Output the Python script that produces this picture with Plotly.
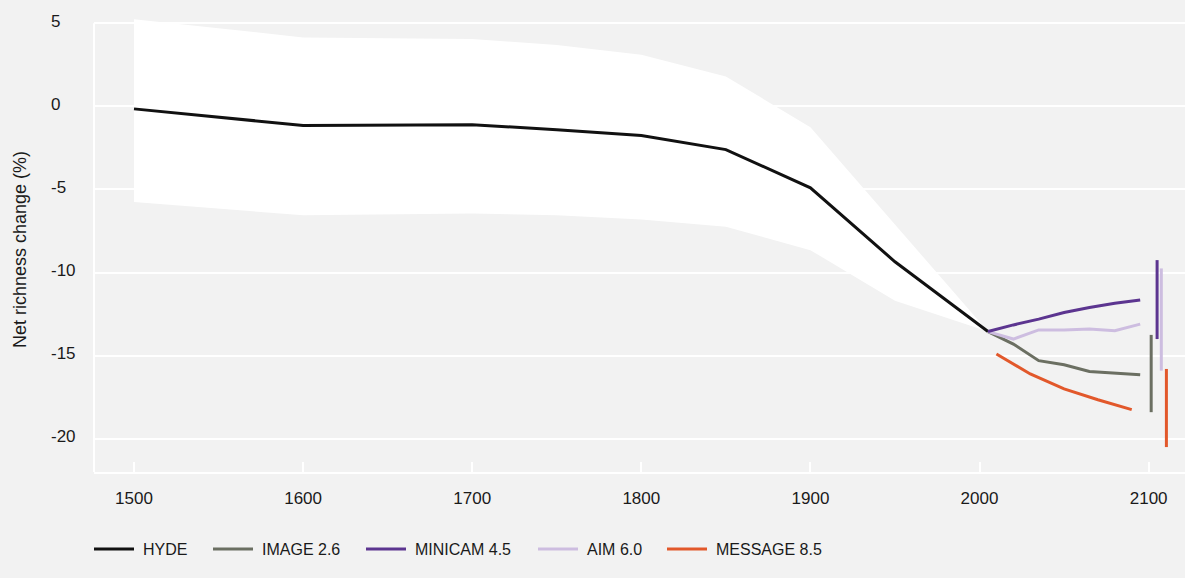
import plotly.graph_objects as go

# --- historical reconstruction (HYDE) and its uncertainty envelope ---
hyde_years = [1500, 1600, 1700, 1750, 1800, 1850, 1900, 1950, 2005]
hyde_values = [-0.15, -1.15, -1.1, -1.4, -1.75, -2.6, -4.9, -9.35, -13.55]
band_upper = [5.25, 4.15, 4.05, 3.7, 3.1, 1.8, -1.25, -7.1, -13.55]
band_lower = [-5.75, -6.55, -6.45, -6.55, -6.8, -7.25, -8.65, -11.7, -13.55]

# --- future scenarios ---
scenario_years = [2005, 2020, 2035, 2050, 2065, 2080, 2095]
image_values = [-13.55, -14.3, -15.3, -15.55, -15.95, -16.05, -16.15]
minicam_values = [-13.55, -13.15, -12.8, -12.4, -12.1, -11.85, -11.65]
aim_values = [-13.55, -14.0, -13.45, -13.45, -13.4, -13.5, -13.1]
message_years = [2010, 2030, 2050, 2070, 2090]
message_values = [-14.9, -16.1, -17.0, -17.65, -18.25]

# end-of-century ranges per scenario
range_names = ["IMAGE 2.6", "MINICAM 4.5", "AIM 6.0", "MESSAGE 8.5"]
range_x = [2101.5, 2105, 2107.5, 2110.5]
range_low = [-18.4, -14.0, -15.9, -20.5]
range_high = [-13.75, -9.25, -9.75, -15.8]

# axis ticks
x_ticks = [1500, 1600, 1700, 1800, 1900, 2000, 2100]
y_ticks = [-20, -15, -10, -5, 0, 5]
y_tick_labels = ["-20", "-15", "-10", "-5", "0", "5"]

legend_names = ["HYDE", "IMAGE 2.6", "MINICAM 4.5", "AIM 6.0", "MESSAGE 8.5"]
colors = {
    "HYDE": "#111111",
    "IMAGE 2.6": "#6b6f62",
    "MINICAM 4.5": "#5c3590",
    "AIM 6.0": "#cdbde0",
    "MESSAGE 8.5": "#e2582b",
}

FONT = "Liberation Sans, Arial, sans-serif"
TEXT = "#1a1a1a"
BG = "#f2f2f2"

fig = go.Figure()

# white uncertainty envelope around the historical line
fig.add_trace(go.Scatter(
    x=hyde_years + hyde_years[::-1],
    y=band_upper + band_lower[::-1],
    fill="toself", fillcolor="white", mode="lines",
    line=dict(width=0, color="white"), hoverinfo="skip", showlegend=False,
))

fig.add_trace(go.Scatter(x=hyde_years, y=hyde_values, mode="lines",
                         line=dict(color=colors["HYDE"], width=3), showlegend=False))

series = [
    ("IMAGE 2.6", scenario_years, image_values),
    ("AIM 6.0", scenario_years, aim_values),
    ("MINICAM 4.5", scenario_years, minicam_values),
    ("MESSAGE 8.5", message_years, message_values),
]
for name, xs, ys in series:
    fig.add_trace(go.Scatter(x=xs, y=ys, mode="lines", name=name,
                             line=dict(color=colors[name], width=3), showlegend=False))

for name, xr, lo, hi in zip(range_names, range_x, range_low, range_high):
    fig.add_trace(go.Scatter(x=[xr, xr], y=[lo, hi], mode="lines",
                             line=dict(color=colors[name], width=3), showlegend=False))

# left frame line, from the bottom of the axis up to the top gridline
fig.add_shape(type="line", xref="paper", yref="y", x0=0, x1=0, y0=-22, y1=5,
              line=dict(color="white", width=2), layer="below")

PLOT_L, PLOT_W, PLOT_B, PLOT_H = 94, 1091, 472, 462
def px_x(px):
    return (px - PLOT_L) / PLOT_W
def px_y(py):
    return (PLOT_B - py) / PLOT_H

# left-aligned y tick labels
for val, lab in zip(y_ticks, y_tick_labels):
    fig.add_annotation(xref="paper", yref="y", x=px_x(49), y=val, yshift=2,
                       text=lab, showarrow=False, xanchor="left", yanchor="middle",
                       font=dict(family=FONT, size=17, color=TEXT))

# legend drawn underneath the plot
legend_line_x = [94, 213, 366, 538, 667]
legend_y = 549
for name, lx in zip(legend_names, legend_line_x):
    fig.add_shape(type="line", xref="paper", yref="paper",
                  x0=px_x(lx), x1=px_x(lx + 40), y0=px_y(legend_y), y1=px_y(legend_y),
                  line=dict(color=colors[name], width=3))
    fig.add_annotation(xref="paper", yref="paper", x=px_x(lx + 47), y=px_y(legend_y),
                       text=name, showarrow=False, xanchor="left", yanchor="middle",
                       font=dict(family=FONT, size=16, color=TEXT))

# y-axis title
fig.add_annotation(xref="paper", yref="paper", x=px_x(20), y=px_y(250),
                   text="Net richness change (%)", textangle=-90, showarrow=False,
                   xanchor="center", yanchor="middle",
                   font=dict(family=FONT, size=18, color=TEXT))

fig.update_layout(
    width=1185, height=578,
    margin=dict(l=94, r=0, t=10, b=106),
    paper_bgcolor=BG, plot_bgcolor=BG,
    showlegend=False,
    font=dict(family=FONT, size=17, color=TEXT),
    xaxis=dict(
        range=[1476.35, 2121.5], tickvals=x_ticks, showgrid=False, zeroline=False,
        showline=True, linecolor="white", linewidth=2,
        ticks="inside", ticklen=10, tickwidth=2, tickcolor="white",
        ticklabelstandoff=10, tickfont=dict(size=17, color=TEXT),
    ),
    yaxis=dict(
        range=[-22, 5.8], tickvals=y_ticks, showgrid=True, gridcolor="white", gridwidth=2,
        zeroline=False, showline=False, ticks="", showticklabels=False,
    ),
)

fig.write_html("out.html")
